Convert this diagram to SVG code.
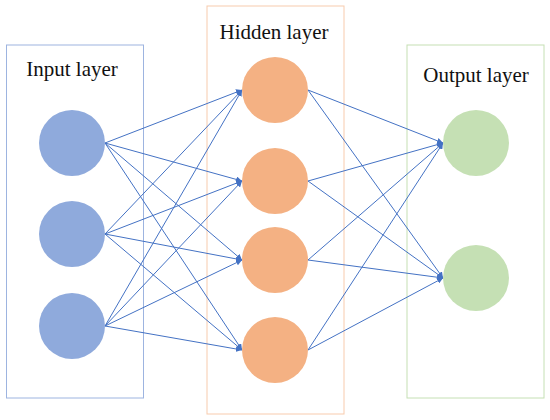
<svg xmlns="http://www.w3.org/2000/svg" width="550" height="420" viewBox="0 0 550 420">
<defs>
<style>
.lbl{font-family:"Liberation Serif","Times New Roman",serif;font-size:21px;fill:#111;text-anchor:middle}
.c{stroke:#4472C4;stroke-width:1;fill:none;marker-end:url(#ah)}
.in{fill:#8FAADC}
.hid{fill:#F4B183}
.out{fill:#C5E0B4}
</style>
<marker id="ah" markerUnits="userSpaceOnUse" markerWidth="7" markerHeight="6" refX="6" refY="3" orient="auto">
<path d="M0,0 L6,3 L0,6 z" fill="#4472C4"/>
</marker>
</defs>
<rect width="550" height="420" fill="#fff"/>
<g id="input-layer">
<rect x="6.5" y="45" width="137" height="353" fill="none" stroke="#9DB4E0" stroke-width="1"/>
<text class="lbl" x="72" y="76">Input layer</text>
</g>
<g id="hidden-layer">
<rect x="207" y="6" width="137" height="408" fill="none" stroke="#F8CBAD" stroke-width="1"/>
<text class="lbl" x="274" y="39">Hidden layer</text>
</g>
<g id="output-layer">
<rect x="407" y="45" width="137" height="353" fill="none" stroke="#C5E0B4" stroke-width="1"/>
<text class="lbl" x="476" y="82">Output layer</text>
</g>
<g id="connectors">
<line class="c" x1="105" y1="143" x2="242" y2="90"/>
<line class="c" x1="105" y1="143" x2="242" y2="181"/>
<line class="c" x1="105" y1="143" x2="242" y2="260"/>
<line class="c" x1="105" y1="143" x2="242" y2="350"/>
<line class="c" x1="105" y1="234" x2="242" y2="90"/>
<line class="c" x1="105" y1="234" x2="242" y2="181"/>
<line class="c" x1="105" y1="234" x2="242" y2="260"/>
<line class="c" x1="105" y1="234" x2="242" y2="350"/>
<line class="c" x1="105" y1="326" x2="242" y2="90"/>
<line class="c" x1="105" y1="326" x2="242" y2="181"/>
<line class="c" x1="105" y1="326" x2="242" y2="260"/>
<line class="c" x1="105" y1="326" x2="242" y2="350"/>
<line class="c" x1="308" y1="90" x2="443" y2="143"/>
<line class="c" x1="308" y1="181" x2="443" y2="143"/>
<line class="c" x1="308" y1="260" x2="443" y2="143"/>
<line class="c" x1="308" y1="350" x2="443" y2="143"/>
<line class="c" x1="308" y1="90" x2="443" y2="278"/>
<line class="c" x1="308" y1="181" x2="443" y2="278"/>
<line class="c" x1="308" y1="260" x2="443" y2="278"/>
<line class="c" x1="308" y1="350" x2="443" y2="278"/>
</g>
<g id="i1"><circle class="in" cx="72" cy="143" r="33"/></g>
<g id="i2"><circle class="in" cx="72" cy="234" r="33"/></g>
<g id="i3"><circle class="in" cx="72" cy="326" r="33"/></g>
<g id="h1"><circle class="hid" cx="275" cy="90" r="33"/></g>
<g id="h2"><circle class="hid" cx="275" cy="181" r="33"/></g>
<g id="h3"><circle class="hid" cx="275" cy="260" r="33"/></g>
<g id="h4"><circle class="hid" cx="275" cy="350" r="33"/></g>
<g id="o1"><circle class="out" cx="476" cy="143" r="33"/></g>
<g id="o2"><circle class="out" cx="476" cy="278" r="33"/></g>
</svg>
